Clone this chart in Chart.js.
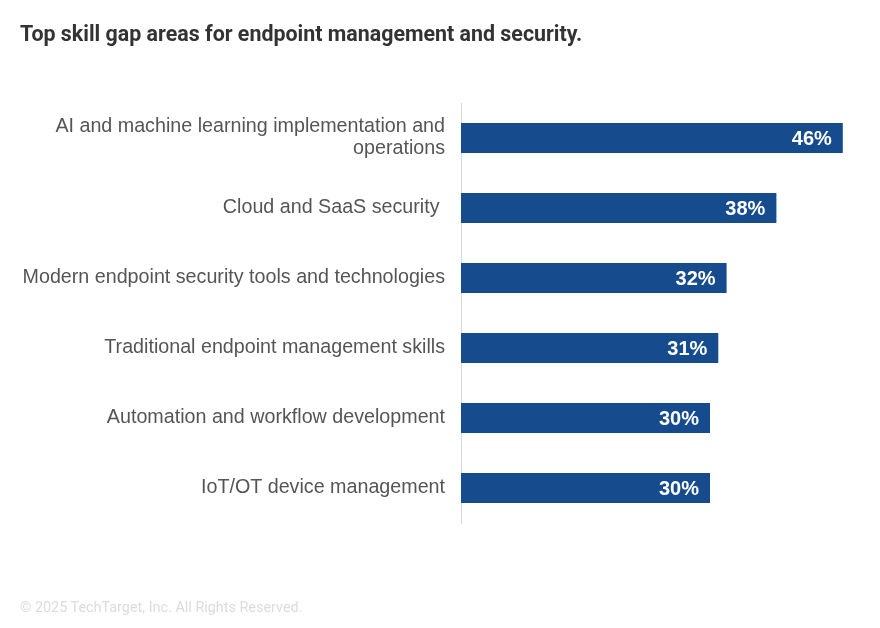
<!DOCTYPE html>
<html>
<head>
<meta charset="utf-8">
<script src="https://cdn.jsdelivr.net/npm/chart.js@4"></script>
<style>
  html, body { margin: 0; padding: 0; background: #fff; }
  #wrap { position: relative; width: 880px; height: 628px; }
  #title {
    position: absolute; left: 20px; top: 21px;
    font: bold 21.4px Roboto, sans-serif; color: #333;
  }
  #foot {
    position: absolute; left: 20px; top: 599px;
    font: 14.4px Roboto, sans-serif; color: #dcdcdc;
  }
  #box { position: absolute; left: 0; top: 0; width: 880px; height: 628px; }
</style>
</head>
<body>
<div id="wrap">
  <div id="box"><canvas id="chart"></canvas></div>
  <div id="title">Top skill gap areas for endpoint management and security.</div>
  <div id="foot">© 2025 TechTarget, Inc. All Rights Reserved.</div>
</div>
<script>
// dane wykresu
const categories = [
  ["AI and machine learning implementation and", "operations"],
  "Cloud and SaaS security ",
  "Modern endpoint security tools and technologies",
  "Traditional endpoint management skills",
  "Automation and workflow development",
  "IoT/OT device management"
];
const values = [46, 38, 32, 31, 30, 30];
const valueLabels = ["46%", "38%", "32%", "31%", "30%", "30%"];

const barColor = "#164C8D";

// etykiety wartosci wewnatrz slupkow
const insideLabels = {
  id: "insideLabels",
  afterDatasetsDraw(chart) {
    const ctx = chart.ctx;
    const meta = chart.getDatasetMeta(0);
    ctx.save();
    ctx.font = "bold 20px 'Liberation Sans', Arial, sans-serif";
    ctx.fillStyle = "#fff";
    ctx.textAlign = "right";
    ctx.textBaseline = "middle";
    meta.data.forEach((bar, i) => {
      ctx.fillText(valueLabels[i], bar.x - 11, bar.y + 1);
    });
    ctx.restore();
  }
};

new Chart(document.getElementById("chart"), {
  type: "bar",
  data: {
    labels: categories,
    datasets: [{
      data: values,
      backgroundColor: barColor,
      categoryPercentage: 0.86,
      barPercentage: 0.5
    }]
  },
  options: {
    indexAxis: "y",
    responsive: true,
    maintainAspectRatio: false,
    animation: false,
    layout: { padding: { top: 103, bottom: 105, left: 0, right: 4 } },
    plugins: {
      legend: { display: false },
      tooltip: { enabled: false }
    },
    scales: {
      x: { display: false, min: 0, max: 50 },
      y: {
        afterFit(scale) { scale.width = 461; },
        grid: { display: false, drawTicks: false },
        border: { display: true, color: "#d9d9d9", width: 1 },
        ticks: {
          color: "#555",
          padding: 16,
          font: { family: "'Liberation Sans', Arial, sans-serif", size: 19.7, lineHeight: 1.12 }
        }
      }
    }
  },
  plugins: [insideLabels]
});
</script>
</body>
</html>
